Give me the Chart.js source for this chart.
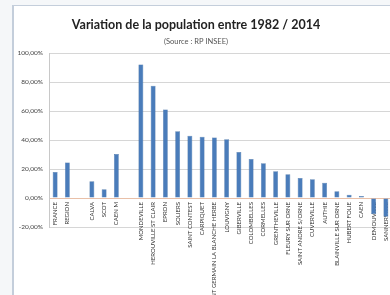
<!DOCTYPE html>
<html><head><meta charset="utf-8">
<script src="https://cdn.jsdelivr.net/npm/chart.js@4"></script>
<style>
html,body{margin:0;padding:0;background:#f5f7f9;overflow:hidden;width:390px;height:295px}
#frame{position:absolute;left:12px;top:5px;width:400px;height:300px;background:#fff;border-left:2px solid #c4cedb;border-top:1px solid #c4cedb}
#wrap{position:absolute;left:0;top:0;width:400px;height:295px}
</style></head>
<body>
<div id="frame"></div>
<div id="wrap"><canvas id="c" width="400" height="295"></canvas></div>
<script>
const titleText = 'Variation de la population entre 1982 / 2014';
const subtitleText = '(Source : RP INSEE)';
const categories = ['FRANCE','REGION','','CALVA','SCOT','CAEN M','',
  'MONDEVILLE','HEROUVILLE ST CLAIR','EPRON','SOLIERS','SAINT CONTEST','CARPIQUET',
  'SAINT GERMAIN LA BLANCHE HERBE','LOUVIGNY','GIBERVILLE','COLOMBELLES','CORMELLES',
  'GRENTHEVILLE','FLEURY SUR ORNE','SAINT ANDRE S/ORNE','CUVERVILLE','AUTHIE',
  'BLAINVILLE SUR ORNE','HUBERT FOLIE','CAEN','DEMOUVILLE','SANNERVILLE'];
const variation = [18, 24.4, null, 11.5, 6, 30.3, null,
  92, 77.5, 61, 46, 43, 42.3, 41.8, 40.5, 31.7, 26.9, 23.9, 18.4, 16.3, 13.8,
  12.9, 10.6, 4.6, 2.3, 1.4, -11, -13];
const yMin = -20, yMax = 100, yStep = 20;

new Chart(document.getElementById('c'), {
  type: 'bar',
  data: {
    labels: categories,
    datasets: [{
      data: variation,
      backgroundColor: '#4a7cba',
      borderColor: '#3d6a9e',
      borderWidth: 0.5,
      barPercentage: 0.4,
      categoryPercentage: 1
    }]
  },
  options: {
    responsive: false,
    animation: false,
    devicePixelRatio: 1,
    layout: { padding: { left: 0, right: 8, top: 0, bottom: 68 } },
    plugins: {
      legend: { display: false },
      tooltip: { enabled: false },
      title: {
        display: true, text: titleText, color: '#222',
        font: { family: 'Lato', size: 12.5, weight: 'bold' },
        padding: { top: 17.5, bottom: 5 }
      },
      subtitle: {
        display: true, text: subtitleText, color: '#555',
        font: { family: 'Lato', size: 7.5 },
        padding: { top: 0, bottom: 6.5 }
      }
    },
    scales: {
      x: {
        position: { y: 0 },
        grid: { display: false, drawTicks: false },
        border: { color: '#e9c0a8' },
        ticks: {
          autoSkip: false, minRotation: 90, maxRotation: 90,
          font: { family: 'Lato', size: 6 }, color: '#333', padding: 4
        }
      },
      y: {
        min: yMin, max: yMax,
        grid: { color: '#d6d6d6', drawTicks: false },
        border: { color: '#c8c8c8' },
        ticks: {
          stepSize: yStep,
          font: { family: 'Lato', size: 6.5 }, color: '#444', padding: 6,
          callback: v => v.toFixed(2).replace('.', ',') + '%'
        },
        afterFit: s => { s.width = 49; }
      }
    }
  }
});
</script>
</body></html>
